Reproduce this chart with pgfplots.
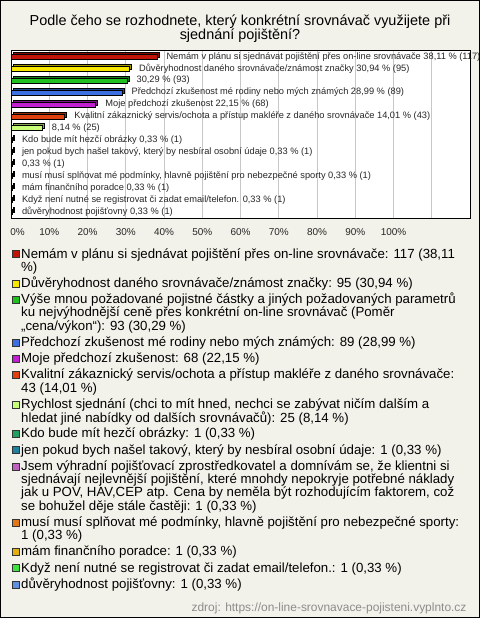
\documentclass[border=0pt]{standalone}
\usepackage{pgfplots}
\pgfplotsset{compat=1.18}
\usepackage{fontspec}
\setmainfont{Liberation Sans}
\definecolor{bg}{HTML}{F3F2EA}
\definecolor{cA}{HTML}{C01408}
\definecolor{cB}{HTML}{F8E800}
\definecolor{cC}{HTML}{20C020}
\definecolor{cD}{HTML}{3C70E0}
\definecolor{cE}{HTML}{C020D0}
\definecolor{cF}{HTML}{E04010}
\definecolor{cG}{HTML}{C8FF78}
\definecolor{cH}{HTML}{20A060}
\definecolor{cI}{HTML}{2080A0}
\definecolor{cJ}{HTML}{C060C0}
\definecolor{cK}{HTML}{E07818}
\definecolor{cL}{HTML}{E0B010}
\definecolor{cM}{HTML}{40E040}
\definecolor{cN}{HTML}{6090E0}
\pgfplotsset{
  frontbar/.style={xbar, fill=#1, draw=black, line width=0.5bp, bar width=5bp, bar shift=0pt,
    nodes near coords, point meta=explicit symbolic,
    every node near coord/.style={anchor=west, xshift=9.5bp, inner sep=0pt,
      font=\fontsize{9.3}{10}\selectfont, text=black!85}},
  backbar/.style={xbar, fill=#1!65!black, draw=black, line width=0.5bp, bar width=5bp, bar shift=0pt,
    xshift=2bp, yshift=2bp, forget plot},
}
\newcommand{\legfont}{\fontsize{13.3}{13.3}\selectfont}
\newcommand{\li}[3]{%
  \draw[fill=#1, draw=black!80, line width=0.5bp] (12bp,-#2bp+0.5bp) rectangle (19bp,-#2bp+7.5bp);
  \node[anchor=base west, inner sep=0pt, font=\legfont] at (21bp,-#2bp) {\parbox[t]{470bp}{\raggedright #3}};}
\begin{document}
\begin{tikzpicture}
\path[use as bounding box] (0,0) rectangle (480bp,-618bp);
\fill[bg] (0,0) rectangle (480bp,-618bp);
\node[anchor=base, font=\fontsize{14.5}{15}\selectfont] at (240bp,-25bp) {Podle čeho se rozhodnete, který konkrétní srovnávač využijete při};
\node[anchor=base, font=\fontsize{14.5}{15}\selectfont] at (240bp,-39.3bp) {sjednání pojištění?};
\begin{axis}[
  scale only axis, width=459bp, height=168bp,
  at={(11bp,-218bp)}, anchor=south west,
  xmin=0, xmax=120, ymin=-0.56, ymax=13.53, y dir=reverse,
  axis background/.style={fill=white},
  axis line style={black, line width=0.8bp},
  xtick={0,10,...,110}, ytick=\empty,
  xticklabels={\hspace*{13bp}0\%,10\%,20\%,30\%,40\%,50\%,60\%,70\%,80\%,90\%,100\%,{}},
  /pgf/number format/assume math mode=true,
  xticklabel style={anchor=base, yshift=-17bp, font=\fontsize{10}{12}\selectfont, text=black!85},
  major tick length=0pt,
  xmajorgrids, grid style={color=black!22, line width=0.6bp},
  clip=false,
]
\addplot[backbar=cA] coordinates {(38.11,0)};
\addplot[frontbar=cA] coordinates {(38.11,0) [{Nemám v plánu si sjednávat pojištění přes on-line srovnávače 38,11 \% (117)}]};
\addplot[backbar=cB] coordinates {(30.94,1)};
\addplot[frontbar=cB] coordinates {(30.94,1) [{Důvěryhodnost daného srovnávače/známost značky 30,94 \% (95)}]};
\addplot[backbar=cC] coordinates {(30.29,2)};
\addplot[frontbar=cC] coordinates {(30.29,2) [{30,29 \% (93)}]};
\addplot[backbar=cD] coordinates {(28.99,3)};
\addplot[frontbar=cD] coordinates {(28.99,3) [{Předchozí zkušenost mé rodiny nebo mých známých 28,99 \% (89)}]};
\addplot[backbar=cE] coordinates {(22.15,4)};
\addplot[frontbar=cE] coordinates {(22.15,4) [{Moje předchozí zkušenost 22,15 \% (68)}]};
\addplot[backbar=cF] coordinates {(14.01,5)};
\addplot[frontbar=cF] coordinates {(14.01,5) [{Kvalitní zákaznický servis/ochota a přístup makléře z daného srovnávače 14,01 \% (43)}]};
\addplot[backbar=cG] coordinates {(8.14,6)};
\addplot[frontbar=cG] coordinates {(8.14,6) [{8,14 \% (25)}]};
\addplot[backbar=cH] coordinates {(0.33,7)};
\addplot[frontbar=cH] coordinates {(0.33,7) [{Kdo bude mít hezčí obrázky 0,33 \% (1)}]};
\addplot[backbar=cI] coordinates {(0.33,8)};
\addplot[frontbar=cI] coordinates {(0.33,8) [{jen pokud bych našel takový, který by nesbíral osobní údaje 0,33 \% (1)}]};
\addplot[backbar=cJ] coordinates {(0.33,9)};
\addplot[frontbar=cJ] coordinates {(0.33,9) [{0,33 \% (1)}]};
\addplot[backbar=cK] coordinates {(0.33,10)};
\addplot[frontbar=cK] coordinates {(0.33,10) [{musí musí splňovat mé podmínky, hlavně pojištění pro nebezpečné sporty 0,33 \% (1)}]};
\addplot[backbar=cL] coordinates {(0.33,11)};
\addplot[frontbar=cL] coordinates {(0.33,11) [{mám finančního poradce 0,33 \% (1)}]};
\addplot[backbar=cM] coordinates {(0.33,12)};
\addplot[frontbar=cM] coordinates {(0.33,12) [{Když není nutné se registrovat či zadat email/telefon. 0,33 \% (1)}]};
\addplot[backbar=cN] coordinates {(0.33,13)};
\addplot[frontbar=cN] coordinates {(0.33,13) [{důvěryhodnost pojišťovny 0,33 \% (1)}]};
\end{axis}
\li{cA}{258}{Nemám v plánu si sjednávat pojištění přes on-line srovnávače: 117 (38,11\\\%)}
\li{cB}{287.5}{Důvěryhodnost daného srovnávače/známost značky: 95 (30,94 \%)}
\li{cC}{303.7}{Výše mnou požadované pojistné částky a jiných požadovaných parametrů\\ku nejvýhodnější ceně přes konkrétní on-line srovnávač (Poměr\\„cena/výkon“): 93 (30,29 \%)}
\li{cD}{346.5}{Předchozí zkušenost mé rodiny nebo mých známých: 89 (28,99 \%)}
\li{cE}{362.7}{Moje předchozí zkušenost: 68 (22,15 \%)}
\li{cF}{378.9}{Kvalitní zákaznický servis/ochota a přístup makléře z daného srovnávače:\\43 (14,01 \%)}
\li{cG}{408.4}{Rychlost sjednání (chci to mít hned, nechci se zabývat ničím dalším a\\hledat jiné nabídky od dalších srovnávačů): 25 (8,14 \%)}
\li{cH}{437.9}{Kdo bude mít hezčí obrázky: 1 (0,33 \%)}
\li{cI}{454.1}{jen pokud bych našel takový, který by nesbíral osobní údaje: 1 (0,33 \%)}
\li{cJ}{470.3}{Jsem výhradní pojišťovací zprostředkovatel a domnívám se, že klientni si\\sjednávají nejlevnější pojištění, které mnohdy nepokryje potřebné náklady\\jak u POV, HAV,CEP atp. Cena by neměla být rozhodujícím faktorem, což\\se bohužel děje stále častěji: 1 (0,33 \%)}
\li{cK}{526.4}{musí musí splňovat mé podmínky, hlavně pojištění pro nebezpečné sporty:\\1 (0,33 \%)}
\li{cL}{555.9}{mám finančního poradce: 1 (0,33 \%)}
\li{cM}{572.1}{Když není nutné se registrovat či zadat email/telefon.: 1 (0,33 \%)}
\li{cN}{588.3}{důvěryhodnost pojišťovny: 1 (0,33 \%)}
\node[anchor=base east, font=\fontsize{12}{13}\selectfont, text=black!45] at (470bp,-611bp) {zdroj: https://on-line-srovnavace-pojisteni.vyplnto.cz};
\draw[black, line width=1bp] (0.5bp,-0.5bp) rectangle (479.5bp,-617.5bp);
\end{tikzpicture}
\end{document}
